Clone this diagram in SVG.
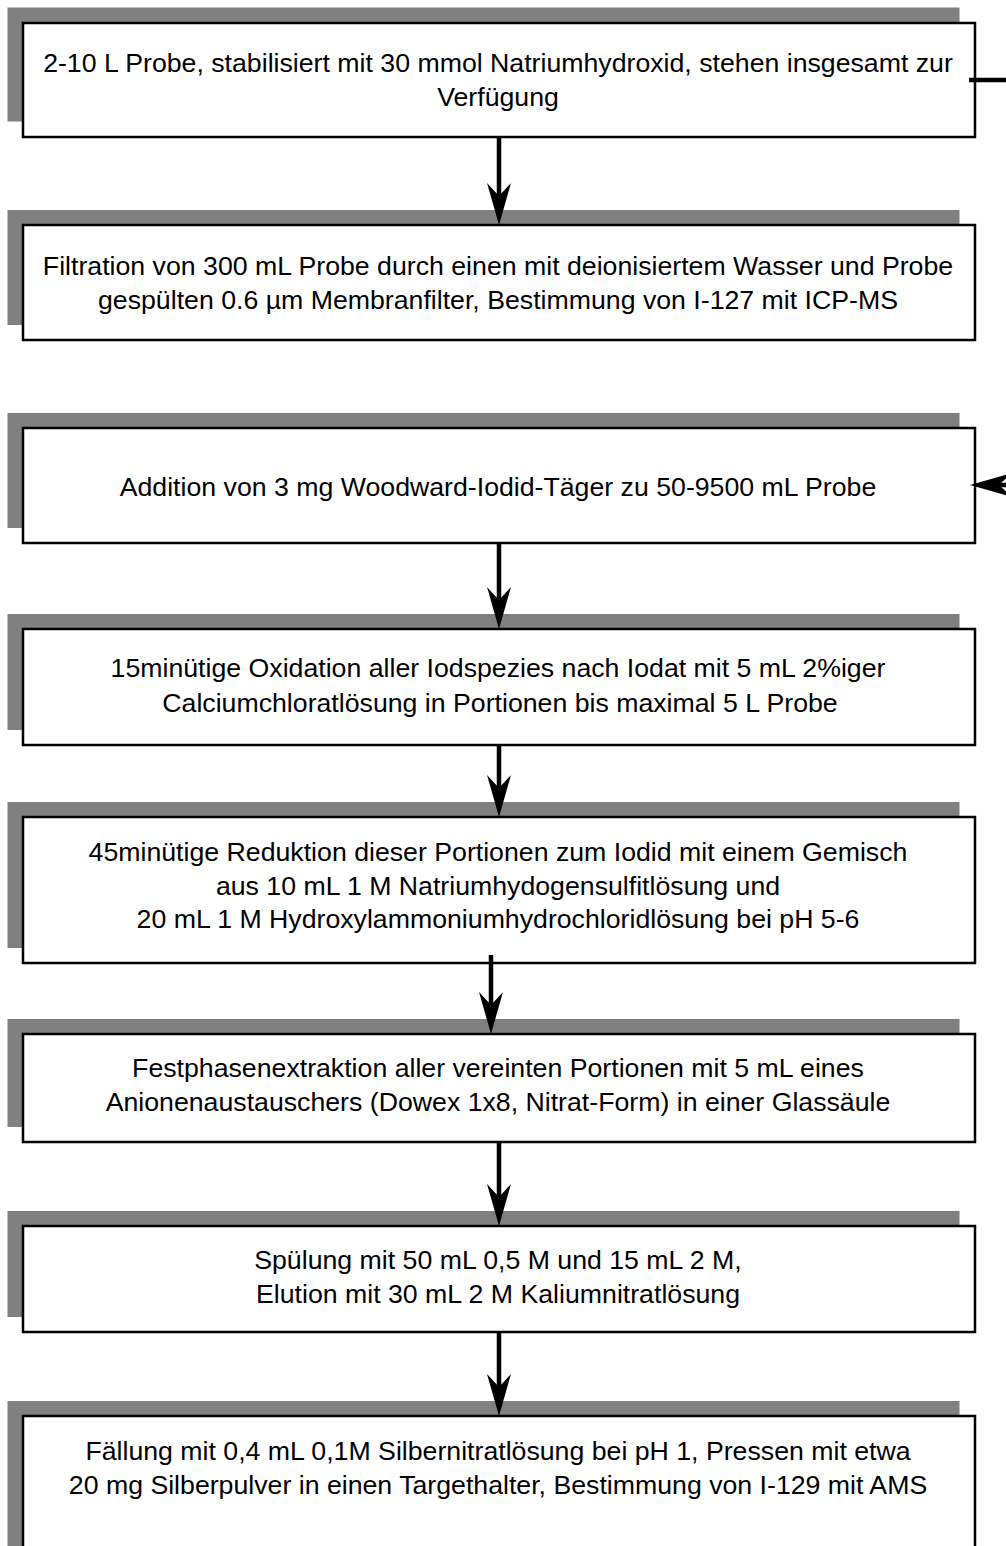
<svg xmlns="http://www.w3.org/2000/svg" width="1006" height="1546" viewBox="0 0 1006 1546">
<style>
.sh{fill:#808080;stroke:none}
.bx{fill:#ffffff;stroke:#000000;stroke-width:2.5}
.t{font-family:"Liberation Sans",Arial,sans-serif;font-size:26.7px;fill:#000000;text-anchor:middle}
.c{fill:none;stroke:#000000;stroke-width:4.5}
</style>
<defs>
<marker id="ah" markerUnits="userSpaceOnUse" viewBox="0 0 42 24" markerWidth="42" markerHeight="24" refX="14" refY="12" orient="auto">
<path d="M0,0 L42,12 L0,24 L13,12 Z" fill="#000000"/>
</marker>
</defs>
<rect width="1006" height="1546" fill="#ffffff"/>
<g id="n1">
<rect class="sh" x="7.5" y="7.5" width="952" height="114"/>
<rect class="bx" x="23" y="23" width="952" height="114"/>
<text class="t" x="498" y="71.5">2-10 L Probe, stabilisiert mit 30 mmol Natriumhydroxid, stehen insgesamt zur</text>
<text class="t" x="498" y="105.5">Verfügung</text>
</g>
<g id="n2">
<rect class="sh" x="7.5" y="210" width="952" height="115"/>
<rect class="bx" x="23" y="225" width="952" height="115"/>
<text class="t" x="498" y="274.5">Filtration von 300 mL Probe durch einen mit deionisiertem Wasser und Probe</text>
<text class="t" x="498" y="308.5">gespülten 0.6 µm Membranfilter, Bestimmung von I-127 mit ICP-MS</text>
</g>
<g id="n3">
<rect class="sh" x="7.5" y="413" width="952" height="115"/>
<rect class="bx" x="23" y="428" width="952" height="115"/>
<text class="t" x="498" y="495.5">Addition von 3 mg Woodward-Iodid-Täger zu 50-9500 mL Probe</text>
</g>
<g id="n4">
<rect class="sh" x="7.5" y="614" width="952" height="116"/>
<rect class="bx" x="23" y="629" width="952" height="116"/>
<text class="t" x="498" y="676.5">15minütige Oxidation aller Iodspezies nach Iodat mit 5 mL 2%iger</text>
<text class="t" x="500" y="711.5">Calciumchloratlösung in Portionen bis maximal 5 L Probe</text>
</g>
<g id="n5">
<rect class="sh" x="7.5" y="802" width="952" height="146"/>
<rect class="bx" x="23" y="817" width="952" height="146"/>
<text class="t" x="498" y="860.5">45minütige Reduktion dieser Portionen zum Iodid mit einem Gemisch</text>
<text class="t" x="498" y="894.5">aus 10 mL 1 M Natriumhydogensulfitlösung und</text>
<text class="t" x="498" y="927.5">20 mL 1 M Hydroxylammoniumhydrochloridlösung bei pH 5-6</text>
</g>
<g id="n6">
<rect class="sh" x="7.5" y="1019" width="952" height="108"/>
<rect class="bx" x="23" y="1034" width="952" height="108"/>
<text class="t" x="498" y="1076.5">Festphasenextraktion aller vereinten Portionen mit 5 mL eines</text>
<text class="t" x="498" y="1110.5">Anionenaustauschers (Dowex 1x8, Nitrat-Form) in einer Glassäule</text>
</g>
<g id="n7">
<rect class="sh" x="7.5" y="1211" width="952" height="106"/>
<rect class="bx" x="23" y="1226" width="952" height="106"/>
<text class="t" x="498" y="1268.5">Spülung mit 50 mL 0,5 M und 15 mL 2 M,</text>
<text class="t" x="498" y="1302.5">Elution mit 30 mL 2 M Kaliumnitratlösung</text>
</g>
<g id="n8">
<rect class="sh" x="7.5" y="1401" width="952" height="160"/>
<rect class="bx" x="23" y="1416" width="952" height="160"/>
<text class="t" x="498" y="1459.5">Fällung mit 0,4 mL 0,1M Silbernitratlösung bei pH 1, Pressen mit etwa</text>
<text class="t" x="498" y="1493.5">20 mg Silberpulver in einen Targethalter, Bestimmung von I-129 mit AMS</text>
</g>
<g id="connectors">
<path class="c" d="M499,137 V197" marker-end="url(#ah)"/>
<path class="c" d="M499,543 V601" marker-end="url(#ah)"/>
<path class="c" d="M499,745 V789" marker-end="url(#ah)"/>
<path class="c" d="M491,955 V1006" marker-end="url(#ah)"/>
<path class="c" d="M499,1142 V1198" marker-end="url(#ah)"/>
<path class="c" d="M499,1332 V1388" marker-end="url(#ah)"/>
<path class="c" d="M969,80 H1040 V485 H998" marker-end="url(#ah)"/>
</g>
</svg>
